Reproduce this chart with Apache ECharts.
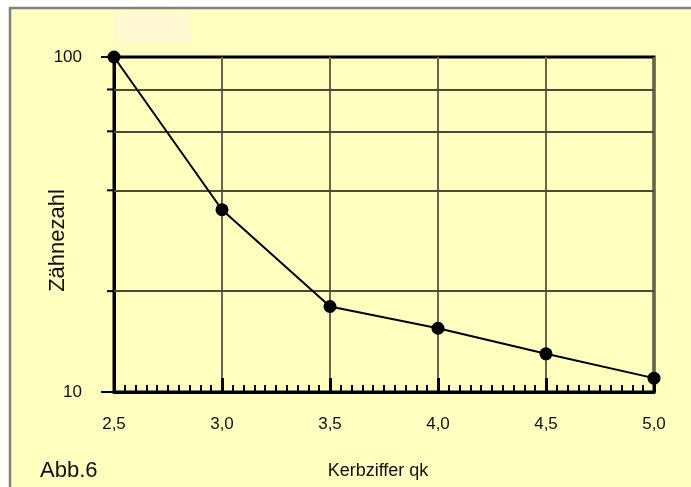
<!DOCTYPE html>
<html>
<head>
<meta charset="utf-8">
<script src="https://cdn.jsdelivr.net/npm/echarts@6/dist/echarts.min.js"></script>
<style>
  html, body { margin: 0; padding: 0; background: #fff; }
  #chart { width: 691px; height: 487px; }
</style>
</head>
<body>
<div id="chart"></div>
<script>
  // Kerbziffer qk (x) gegen Zähnezahl (y, log)
  const kerbziffer = [2.5, 3.0, 3.5, 4.0, 4.5, 5.0];
  const zaehnezahl = [100, 35, 18, 15.5, 13, 11];
  const hilfslinien = [20, 40, 60, 80];   // extra horizontal grid lines on the log axis

  const font = 'Liberation Sans, Arial, sans-serif';
  let myChart = echarts.init(document.getElementById('chart'));

  let punkte = [];
  for (let i = 0; i < kerbziffer.length; i++) {
    punkte.push([kerbziffer[i], zaehnezahl[i]]);
  }

  let option = {
    backgroundColor: '#ffffff',
    animation: false,
    grid: {
      left: 114,
      right: 37,
      top: 57,
      bottom: 95,
      show: true,
      borderColor: '#000',
      borderWidth: 3,
      backgroundColor: 'transparent'
    },
    xAxis: {
      type: 'value',
      min: 2.5,
      max: 5,
      interval: 0.5,
      name: 'Kerbziffer qk',
      nameLocation: 'middle',
      nameGap: 70,
      nameMoveOverlap: false,
      nameTextStyle: { fontFamily: font, fontSize: 18, color: '#111', padding: [0, 12, 0, 0] },
      axisLine: { lineStyle: { color: '#000', width: 3 } },
      axisTick: { inside: true, length: 14, lineStyle: { color: '#000', width: 3 } },
      minorTick: { show: true, splitNumber: 10, length: 7, lineStyle: { color: '#000', width: 2 } },
      splitLine: { show: true, lineStyle: { color: '#646450', width: 2 } },
      axisLabel: {
        margin: 24,
        fontFamily: font,
        fontSize: 17,
        color: '#111',
        formatter: function (v) { return v.toFixed(1).replace('.', ','); }
      }
    },
    yAxis: {
      type: 'log',
      logBase: 10,
      min: 10,
      max: 100,
      name: 'Zähnezahl',
      nameLocation: 'middle',
      nameGap: 45,
      nameMoveOverlap: false,
      nameTextStyle: { fontFamily: font, fontSize: 22, color: '#111', padding: [0, 32, 0, 0] },
      axisLine: { lineStyle: { color: '#000', width: 3 } },
      axisTick: { inside: false, length: 13, lineStyle: { color: '#000', width: 2 } },
      splitLine: { show: false },
      axisLabel: { margin: 32, fontFamily: font, fontSize: 17, color: '#111' }
    },
    series: [{
      type: 'line',
      data: punkte,
      symbol: 'circle',
      symbolSize: 13,
      itemStyle: { color: '#000' },
      lineStyle: { color: '#000', width: 2 },
      z: 5,
      markLine: {
        silent: true,
        symbol: 'none',
        label: { show: false },
        lineStyle: { color: '#4a4a3a', width: 2, type: 'solid' },
        data: hilfslinien.map(function (v) { return { yAxis: v }; })
      }
    }]
  };
  myChart.setOption(option);

  // frame, title box and the small y ticks at the helper lines
  let graphic = [
    {
      type: 'rect', z: -10, silent: true,
      shape: { x: 10, y: 8, width: 700, height: 500 },
      style: { fill: '#ffffc0', stroke: '#808080', lineWidth: 2.5 }
    },
    {
      type: 'rect', z: -9, silent: true,
      shape: { x: 115, y: 13, width: 75, height: 30 },
      style: { fill: '#fff8d0' }
    },
    {
      type: 'text', left: 40, top: 460,
      style: { text: 'Abb.6', fontFamily: font, fontSize: 22, fill: '#111' }
    }
  ];
  let x0 = myChart.convertToPixel({ xAxisIndex: 0 }, kerbziffer[0]);
  hilfslinien.forEach(function (v) {
    let y = myChart.convertToPixel({ yAxisIndex: 0 }, v);
    graphic.push({
      type: 'line', silent: true, z: 10,
      shape: { x1: x0 - 7, y1: y, x2: x0, y2: y },
      style: { stroke: '#000', lineWidth: 2 }
    });
  });
  myChart.setOption({ graphic: graphic });
</script>
</body>
</html>
